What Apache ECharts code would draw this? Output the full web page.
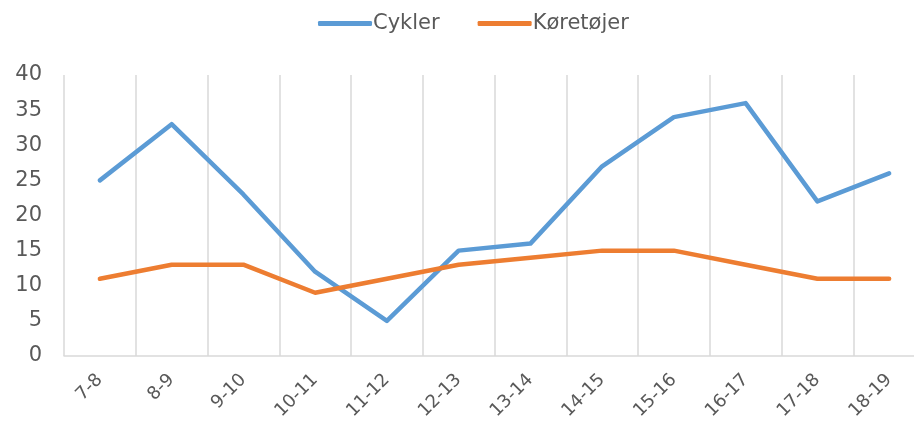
<!DOCTYPE html>
<html><head><meta charset="utf-8">
<script src="https://cdn.jsdelivr.net/npm/echarts@6/dist/echarts.min.js"></script>
<style>html,body{margin:0;padding:0;background:#fff;overflow:hidden}#c{width:914px;height:434px}</style>
</head><body><div id="c"></div>
<script>
const categories = ['7-8','8-9','9-10','10-11','11-12','12-13','13-14','14-15','15-16','16-17','17-18','18-19'];
const cykler = [25,33,23,12,5,15,16,27,34,36,22,26];
const koretojer = [11,13,13,9,11,13,14,15,15,13,11,11];
const yTicks = {min:0,max:40,interval:5};
const FONT = 'DejaVu Sans';
const chart = echarts.init(document.getElementById('c'));
chart.setOption({
  animation:false,
  textStyle:{fontFamily:FONT},
  legend:{top:8,left:313,icon:'roundRect',itemWidth:54,itemHeight:5,itemGap:38,
    textStyle:{fontSize:21,color:'#595959',fontFamily:FONT,padding:[0,0,0,-4]},
    data:['Cykler','Køretøjer']},
  grid:{left:64,width:861,top:75,height:281,containLabel:false,outerBoundsMode:'none'},
  xAxis:{type:'category',data:categories,boundaryGap:true,
    axisLine:{lineStyle:{color:'#d9d9d9',width:1.5}},axisTick:{show:false},
    splitLine:{show:true,lineStyle:{color:'#d9d9d9',width:1.5}},
    axisLabel:{rotate:45,fontSize:18,color:'#595959',margin:21,fontFamily:FONT,interval:0}},
  yAxis:{type:'value',min:yTicks.min,max:yTicks.max,interval:yTicks.interval,
    axisLine:{show:false},axisTick:{show:false},splitLine:{show:false},
    axisLabel:{fontSize:21,color:'#595959',margin:22,fontFamily:FONT}},
  series:[
    {name:'Cykler',type:'line',data:cykler,symbol:'none',lineStyle:{color:'#5B9BD5',width:4.5,cap:'round',join:'round'},itemStyle:{color:'#5B9BD5'}},
    {name:'Køretøjer',type:'line',data:koretojer,symbol:'none',lineStyle:{color:'#ED7D31',width:4.5,cap:'round',join:'round'},itemStyle:{color:'#ED7D31'}}
  ]
});
</script></body></html>
